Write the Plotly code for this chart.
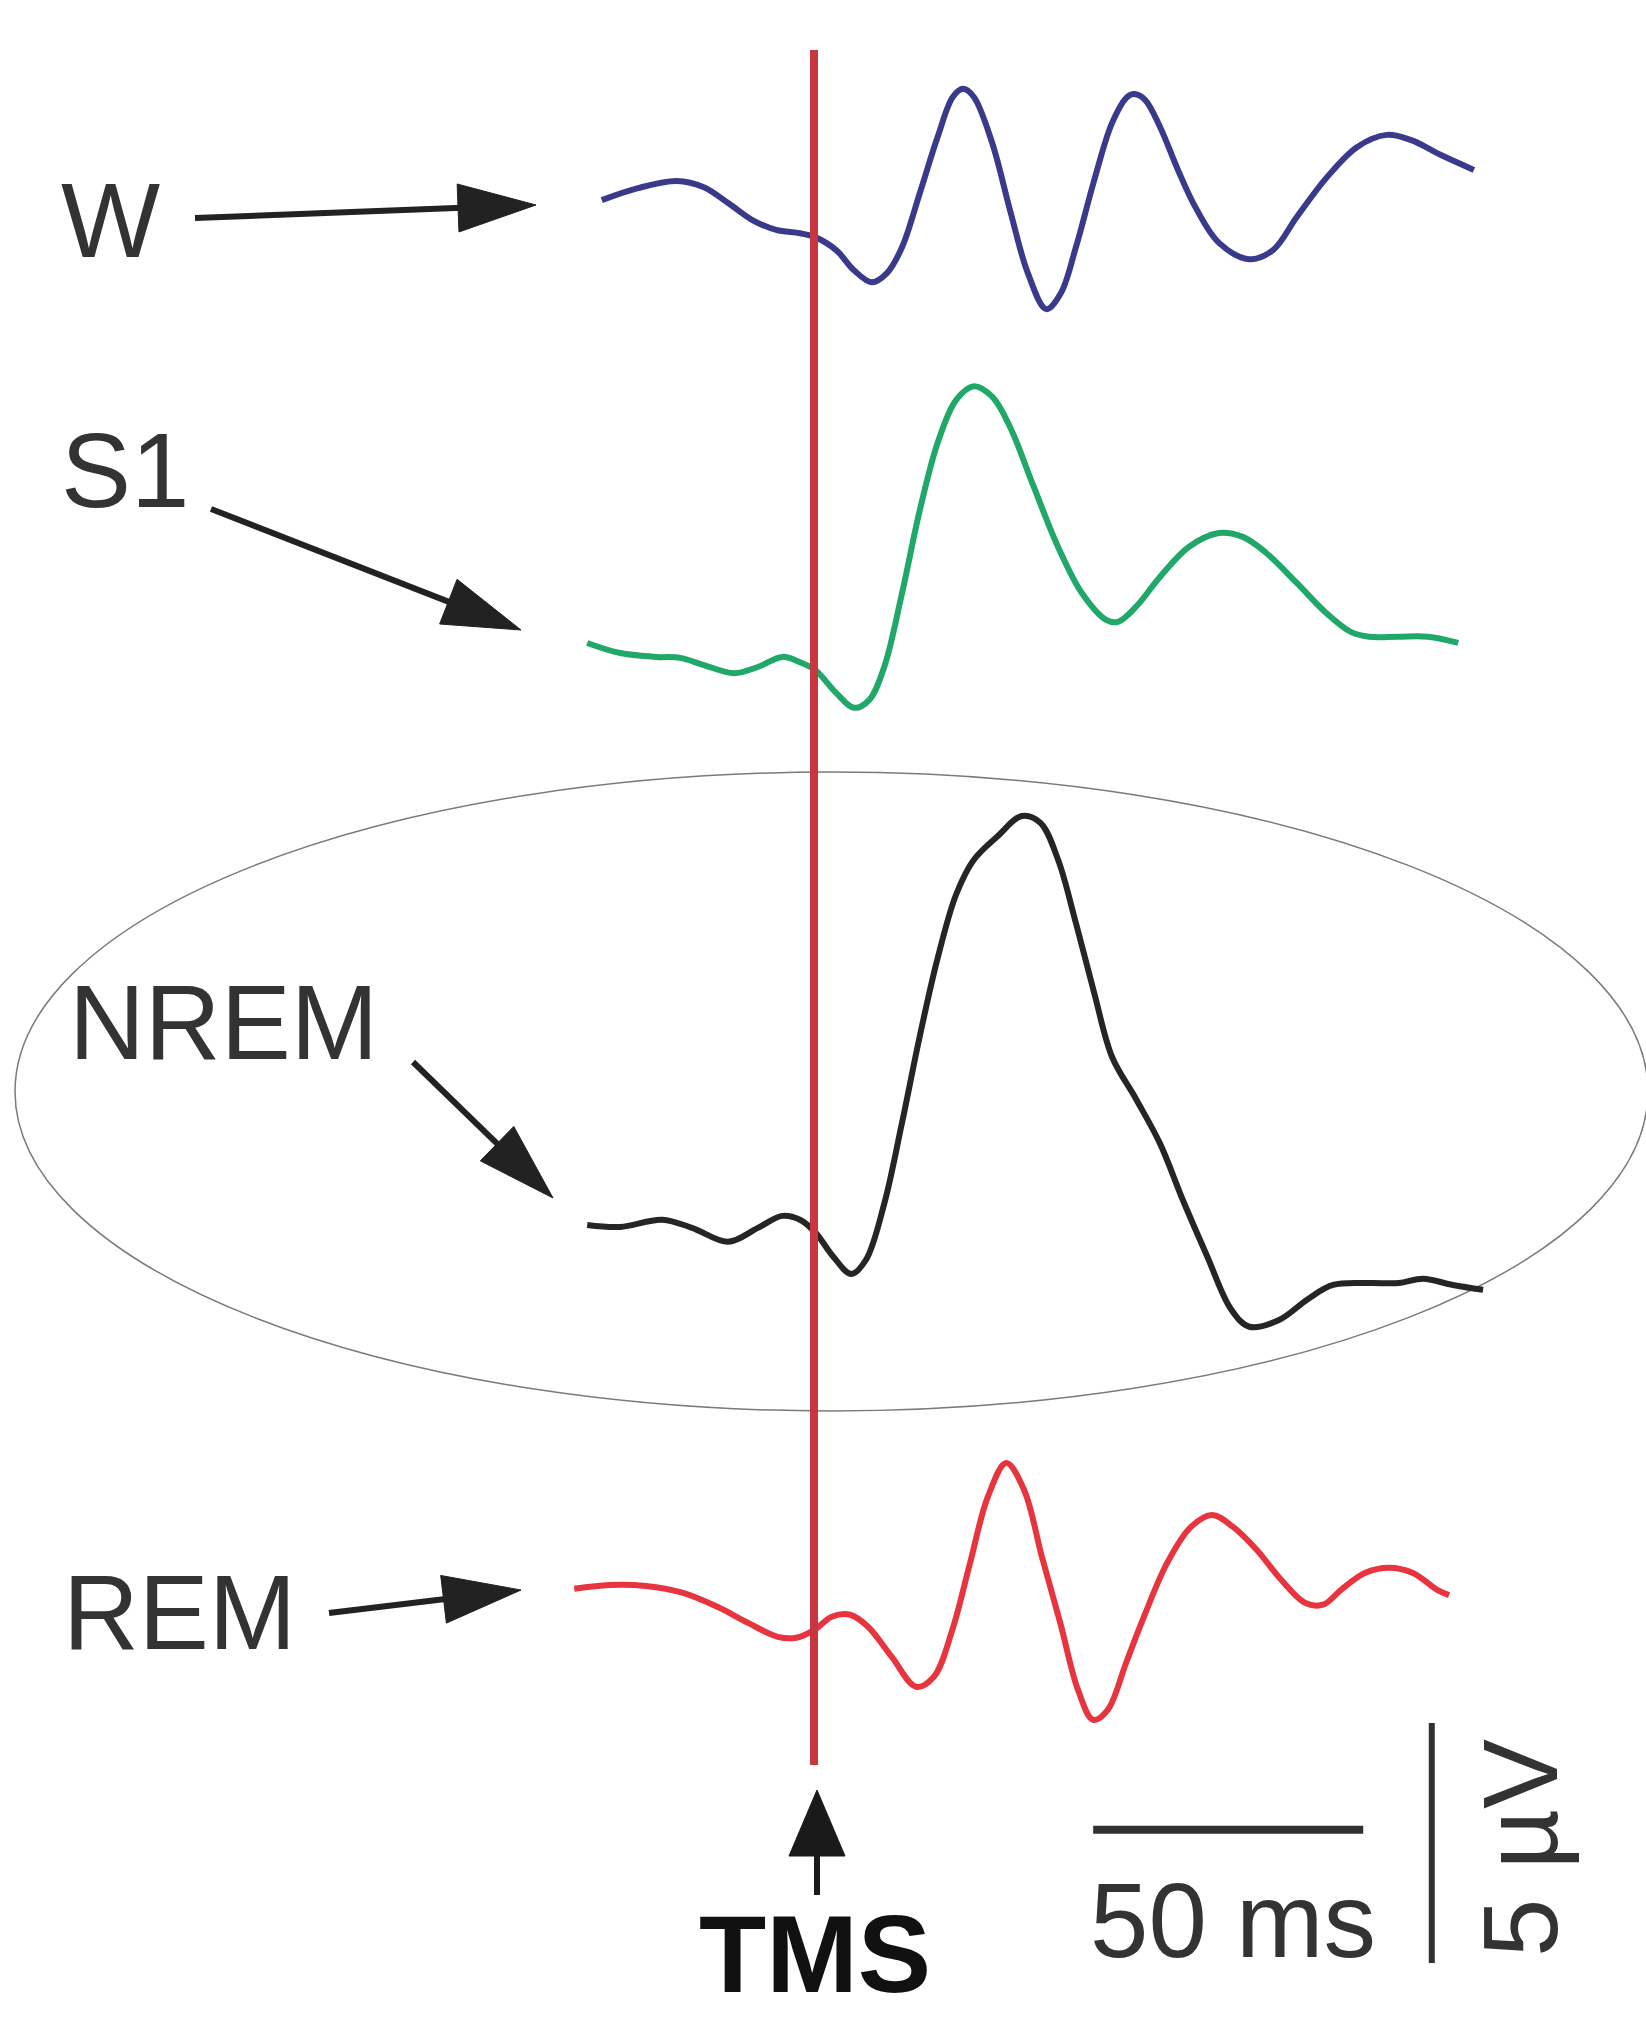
import math
import plotly.graph_objects as go

# ---------------- data (time in ms relative to TMS, amplitude in µV) ----------------
W_T = [-39.3, -32.6, -25.4, -20.4, -15.9, -11.5, -7.0, -2.6, 0.2, 4.1, 7.4, 10.7, 13.5, 16.3,
       19.6, 22.9, 25.7, 27.6, 29.6, 33.0, 36.3, 39.6, 43.0, 45.7, 48.5, 51.9, 55.2, 58.0, 59.3,
       61.3, 64.1, 67.4, 70.6, 75.0, 80.6, 85.0, 89.4, 95.0, 100.6, 106.1, 110.6, 116.1, 122.2]
W_V = [0.31, 0.56, 0.71, 0.58, 0.25, -0.10, -0.31, -0.38, -0.46, -0.73, -1.15, -1.40, -1.21, -0.67,
       0.46, 1.63, 2.46, 2.63, 2.46, 1.50, 0.10, -1.21, -1.96, -1.63, -0.67, 0.73, 1.92, 2.46, 2.52,
       2.40, 1.83, 0.94, 0.17, -0.58, -0.92, -0.73, -0.04, 0.79, 1.42, 1.67, 1.56, 1.25, 0.94]

S1_T = [-42.0, -35.9, -29.3, -24.8, -20.4, -14.8, -10.4, -5.9, -2.6, 0.2, 4.1, 7.4, 10.2, 13.0,
        16.3, 19.6, 22.9, 26.3, 29.6, 33.0, 36.3, 40.7, 45.2, 49.6, 54.1, 56.3, 59.6, 64.1, 69.4,
        75.0, 79.4, 83.7, 89.4, 94.8, 99.4, 102.8, 108.1, 113.7, 119.3]
S1_V = [0.25, 0.04, -0.04, -0.06, -0.21, -0.38, -0.25, -0.04, -0.15, -0.31, -0.79, -1.10, -0.94, -0.25,
        1.29, 3.02, 4.42, 5.31, 5.60, 5.38, 4.75, 3.50, 2.25, 1.29, 0.73, 0.69, 1.00, 1.63, 2.25,
        2.54, 2.46, 2.13, 1.50, 0.88, 0.48, 0.38, 0.38, 0.38, 0.25]

NREM_T = [-42.0, -35.9, -28.1, -22.6, -15.9, -10.4, -5.9, -2.6, 0.2, 3.5, 6.9, 9.6, 13.0, 16.3,
          19.6, 22.9, 26.3, 29.6, 34.1, 38.5, 41.9, 45.2, 48.5, 51.9, 55.2, 59.6, 64.1, 68.3, 72.8,
          77.2, 80.6, 86.1, 91.5, 96.1, 102.8, 108.3, 112.8, 118.3, 123.9]
NREM_V = [0.02, -0.02, 0.13, -0.04, -0.33, -0.04, 0.21, 0.13, -0.13, -0.63, -1.00, -0.71, 0.46, 2.15,
          3.96, 5.58, 6.90, 7.63, 8.13, 8.54, 8.40, 7.63, 6.31, 4.85, 3.52, 2.65, 1.71, 0.54, -0.63,
          -1.73, -2.10, -1.96, -1.52, -1.23, -1.19, -1.19, -1.10, -1.23, -1.33]

REM_T = [-44.4, -37.8, -31.1, -24.4, -17.8, -12.2, -6.7, -3.3, 0.0, 3.3, 6.7, 10.0, 14.4, 18.9,
         22.2, 25.6, 28.9, 32.2, 35.6, 38.9, 42.2, 45.6, 48.9, 51.7, 54.4, 57.8, 61.1, 65.4, 69.8,
         73.7, 77.6, 82.0, 86.5, 90.9, 94.3, 97.6, 102.0, 106.5, 110.9, 115.4, 117.6]
REM_V = [-0.02, 0.06, 0.04, -0.10, -0.40, -0.73, -1.02, -1.04, -0.88, -0.60, -0.56, -0.81, -1.44, -2.06,
         -1.85, -0.88, 0.52, 1.90, 2.60, 2.04, 0.65, -0.73, -2.13, -2.75, -2.54, -1.56, -0.60, 0.52, 1.27,
         1.52, 1.27, 0.79, 0.17, -0.31, -0.35, -0.04, 0.31, 0.42, 0.31, -0.04, -0.15]

LABELS = ["W", "S1", "NREM", "REM"]
SCALE_MS = 50    # horizontal calibration bar (ms)
SCALE_UV = 5     # vertical calibration bar (µV)

# ---------------- layout / styling ----------------
W_PX, H_PX = 1646, 2017
X_RANGE = [-150.74, 154.07]   # ms across the page
Y_RANGE = [0.0, 42.02]        # µV across the page
OFFSETS = [37.54, 28.375, 16.48, 8.94]   # vertical placement of each trace (µV)
COLORS = ["#3a3a8c", "#1fa868", "#252525", "#e8343e"]
TEXT_COL = "#333333"
FONT = "Liberation Sans, Arial, sans-serif"


def px(x, y):
    """page pixel -> paper fraction (for annotation-type decorations)"""
    return x / W_PX, 1 - y / H_PX


fig = go.Figure()
series = [(W_T, W_V), (S1_T, S1_V), (NREM_T, NREM_V), (REM_T, REM_V)]
for (t, v), off, col, name in zip(series, OFFSETS, COLORS, LABELS):
    fig.add_trace(go.Scatter(x=t, y=[val + off for val in v], mode="lines", name=name,
                             line=dict(color=col, width=6, shape="spline", smoothing=1.0),
                             hoverinfo="skip", showlegend=False))

shapes = []
# TMS onset line at t = 0
shapes.append(dict(type="line", xref="x", yref="y", x0=0, x1=0, y0=5.25, y1=40.98,
                   line=dict(color="#c8363f", width=8), layer="above"))

# ellipse around NREM
ex0, ey0 = px(15, 772)
ex1, ey1 = px(1648, 1411)
shapes.append(dict(type="circle", xref="paper", yref="paper", x0=ex0, x1=ex1, y0=ey1, y1=ey0,
                   line=dict(color="#7a7a7a", width=1.5), layer="below"))

# scale bars (data units)
SB_T0, SB_Y = 51.7, 3.9
shapes.append(dict(type="line", xref="x", yref="y", x0=SB_T0, x1=SB_T0 + SCALE_MS, y0=SB_Y, y1=SB_Y,
                   line=dict(color="#303030", width=8)))
VB_T, VB_Y0 = 114.4, 1.125
shapes.append(dict(type="line", xref="x", yref="y", x0=VB_T, x1=VB_T, y0=VB_Y0, y1=VB_Y0 + SCALE_UV,
                   line=dict(color="#303030", width=6)))


def arrow(tail, tip, head_len=78, head_w=48, lw=6, col="#222222"):
    dx, dy = tip[0] - tail[0], tip[1] - tail[1]
    d = math.hypot(dx, dy)
    ux, uy = dx / d, dy / d
    nx, ny = -uy, ux
    bx, by = tip[0] - head_len * ux, tip[1] - head_len * uy
    a = px(*tail)
    b = px(bx + 4 * ux, by + 4 * uy)
    shapes.append(dict(type="line", xref="paper", yref="paper", x0=a[0], y0=a[1], x1=b[0], y1=b[1],
                       line=dict(color=col, width=lw)))
    p1 = px(*tip)
    p2 = px(bx + nx * head_w / 2, by + ny * head_w / 2)
    p3 = px(bx - nx * head_w / 2, by - ny * head_w / 2)
    path = f"M{p1[0]},{p1[1]} L{p2[0]},{p2[1]} L{p3[0]},{p3[1]} Z"
    shapes.append(dict(type="path", xref="paper", yref="paper", path=path,
                       fillcolor=col, line=dict(color=col, width=1)))


arrow((195, 218), (536, 205))
arrow((211, 509), (521, 630))
arrow((413, 1062), (553, 1198))
arrow((329, 1613), (521, 1590))
arrow((817, 1895), (817, 1790), head_len=66, head_w=56, lw=6, col="#1a1a1a")

annotations = []
label_pos = [(59, 220), (59, 470), (67, 1022), (61, 1612)]
for lab, (lx, ly) in zip(LABELS, label_pos):
    x, y = px(lx, ly)
    annotations.append(dict(text=lab, x=x, y=y, xref="paper", yref="paper", xanchor="left",
                            yanchor="middle", showarrow=False,
                            font=dict(family=FONT, size=105, color=TEXT_COL)))

x, y = px(1233, 1920)
annotations.append(dict(text=f"{SCALE_MS} ms", x=x, y=y, xref="paper", yref="paper",
                        xanchor="center", yanchor="middle", showarrow=False,
                        font=dict(family=FONT, size=105, color=TEXT_COL)))
x, y = px(1520, 1848)
annotations.append(dict(text=f"{SCALE_UV} µV", x=x, y=y, xref="paper", yref="paper",
                        xanchor="center", yanchor="middle", showarrow=False, textangle=-90,
                        font=dict(family=FONT, size=105, color=TEXT_COL)))
x, y = px(815, 2017)
annotations.append(dict(text="<b>TMS</b>", x=x, y=y, xref="paper", yref="paper",
                        xanchor="center", yanchor="bottom", showarrow=False,
                        font=dict(family=FONT, size=110, color="#111111")))

fig.update_layout(
    width=W_PX, height=H_PX,
    margin=dict(l=0, r=0, t=0, b=0),
    paper_bgcolor="white", plot_bgcolor="white",
    xaxis=dict(range=X_RANGE, visible=False, showgrid=False, zeroline=False, fixedrange=True),
    yaxis=dict(range=Y_RANGE, visible=False, showgrid=False, zeroline=False, fixedrange=True),
    shapes=shapes, annotations=annotations,
)

fig.write_html("out.html", config={"displayModeBar": False})
